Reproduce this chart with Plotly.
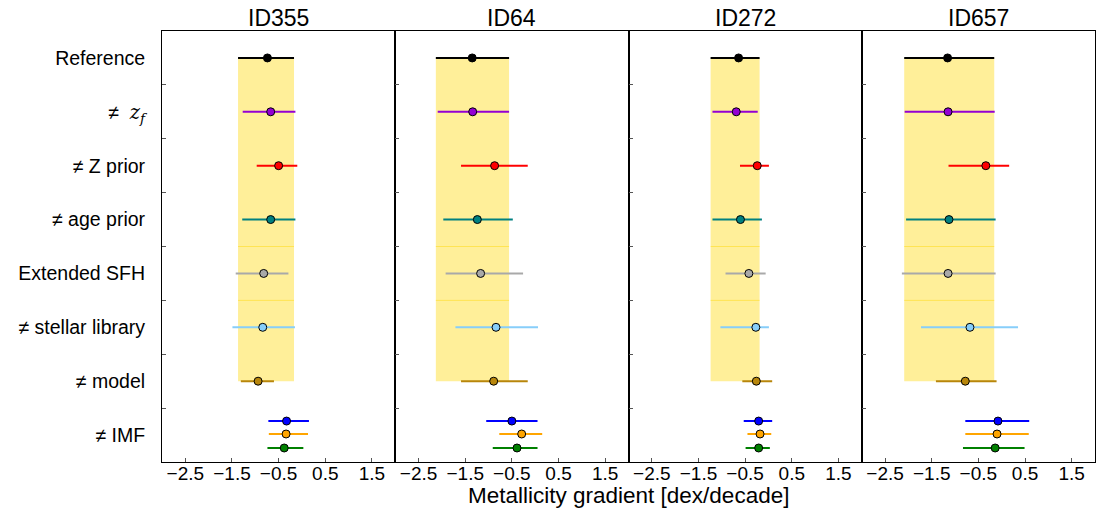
import plotly.graph_objects as go
from plotly.subplots import make_subplots

galaxies = ["ID355", "ID64", "ID272", "ID657"]
row_labels = ["Reference", "≠  <span style=\"font-family:'DejaVu Serif'\"><i>z<sub>f</sub></i></span>",
              "≠ Z prior", "≠ age prior", "Extended SFH", "≠ stellar library", "≠ model", "≠ IMF"]
row_pos = [8, 7, 6, 5, 4, 3, 2, 1]
# series: Reference, zf, Z prior, age prior, Ext SFH, stellar lib, model, IMF(3 variants)
series_row = [0, 1, 2, 3, 4, 5, 6, 7, 7, 7]
series_colors = ["black", "darkviolet", "red", "teal", "darkgray", "lightskyblue",
                 "darkgoldenrod", "blue", "orange", "green"]
series_offset = [0, 0, 0, 0, 0, 0, 0, 0.26, 0.02, -0.24]

id355_center = [-0.74, -0.67, -0.50, -0.67, -0.82, -0.84, -0.94, -0.33, -0.34, -0.38]
id355_lo = [-1.37, -1.27, -0.97, -1.28, -1.42, -1.49, -1.31, -0.72, -0.71, -0.74]
id355_hi = [-0.17, -0.14, -0.10, -0.14, -0.29, -0.15, -0.60, 0.15, 0.13, 0.03]

id64_center = [-1.35, -1.34, -0.87, -1.24, -1.17, -0.84, -0.89, -0.50, -0.29, -0.39]
id64_lo = [-2.13, -2.09, -1.59, -1.97, -1.92, -1.71, -1.59, -1.05, -0.77, -0.91]
id64_hi = [-0.56, -0.56, -0.16, -0.48, -0.26, 0.06, -0.16, 0.05, 0.15, 0.05]

id272_center = [-0.64, -0.69, -0.24, -0.60, -0.42, -0.27, -0.26, -0.21, -0.18, -0.21]
id272_lo = [-1.24, -1.20, -0.61, -1.20, -0.92, -1.03, -0.56, -0.53, -0.45, -0.49]
id272_hi = [-0.19, -0.23, 0.01, -0.14, -0.06, 0.01, 0.08, 0.08, 0.06, 0.03]

id657_center = [-1.16, -1.15, -0.34, -1.13, -1.15, -0.68, -0.78, -0.08, -0.10, -0.14]
id657_lo = [-2.09, -2.08, -1.14, -2.05, -2.14, -1.73, -1.41, -0.78, -0.78, -0.83]
id657_hi = [-0.16, -0.15, 0.16, -0.13, -0.13, 0.35, -0.11, 0.59, 0.58, 0.49]

x_ticks = [-2.5, -1.5, -0.5, 0.5, 1.5]
x_range = [-3, 2]

panels = [(id355_center, id355_lo, id355_hi), (id64_center, id64_lo, id64_hi),
          (id272_center, id272_lo, id272_hi), (id657_center, id657_lo, id657_hi)]

FONT = "Liberation Sans, Arial, sans-serif"

fig = make_subplots(rows=1, cols=4, shared_yaxes=True, horizontal_spacing=0)

for p, (cen, lo, hi) in enumerate(panels):
    col = p + 1
    # yellow band spanning the reference interval, from Reference row to model row
    top, bottom = row_pos[0], row_pos[6]
    fig.add_trace(go.Scatter(x=[lo[0], hi[0], hi[0], lo[0], lo[0]],
                             y=[top, top, bottom, bottom, top],
                             mode="lines", fill="toself", fillcolor="rgba(255,215,0,0.4)",
                             line=dict(width=0), hoverinfo="skip", showlegend=False),
                  row=1, col=col)
    # faint seams inside the band
    for yy in (4.5, 3.5):
        fig.add_trace(go.Scatter(x=[lo[0], hi[0]], y=[yy, yy], mode="lines",
                                 line=dict(color="rgba(255,215,0,0.45)", width=1),
                                 hoverinfo="skip", showlegend=False), row=1, col=col)
    for i in range(len(cen)):
        y = row_pos[series_row[i]] + series_offset[i]
        fig.add_trace(go.Scatter(
            x=[cen[i]], y=[y], mode="markers",
            marker=dict(size=8, color=series_colors[i], line=dict(color="black", width=1)),
            error_x=dict(type="data", symmetric=False, array=[hi[i] - cen[i]],
                         arrayminus=[cen[i] - lo[i]], color=series_colors[i],
                         thickness=2, width=0),
            showlegend=False), row=1, col=col)

for p in range(4):
    col = p + 1
    fig.update_xaxes(range=x_range, tickvals=x_ticks, ticktext=[f"{v:.1f}".replace("-", "\u2212") for v in x_ticks],
                     ticks="inside", ticklen=4, tickcolor="#555", showline=True, mirror=True,
                     linecolor="black", linewidth=1, showgrid=False, zeroline=False,
                     automargin=False, ticklabelstandoff=-6,
                     tickfont=dict(family=FONT, size=19, color="black"), row=1, col=col)
    fig.update_yaxes(range=[0.5, 8.5], tickvals=row_pos, ticktext=row_labels,
                     ticks="", showline=True, mirror=True, linecolor="black", linewidth=1,
                     showgrid=False, zeroline=False, automargin=False,
                     minor=dict(tickvals=[7.5, 6.5, 5.5, 4.5, 3.5, 2.5, 1.5], ticks="inside",
                                ticklen=4, tickcolor="#555"),
                     tickfont=dict(family=FONT, size=19.5, color="black"), row=1, col=col)

fig.update_yaxes(ticklabelstandoff=12, row=1, col=1)

annotations = []
for p, name in enumerate(galaxies):
    annotations.append(dict(text=name, xref=f"x{p + 1 if p else ''} domain", x=0.5, yref="paper",
                            y=1.03, xanchor="center", yanchor="middle", showarrow=False,
                            font=dict(family=FONT, size=23, color="black")))
annotations.append(dict(text="Metallicity gradient [dex/decade]", xref="paper", x=0.5,
                        yref="paper", y=-0.078, xanchor="center", yanchor="middle",
                        showarrow=False, font=dict(family=FONT, size=22.5, color="black")))

fig.update_layout(width=1097, height=509, margin=dict(l=162, r=2, t=31, b=47, autoexpand=False),
                  paper_bgcolor="white", plot_bgcolor="white", annotations=annotations,
                  font=dict(family=FONT, color="black"))

fig.write_html("out.html", config={"displayModeBar": False},
               post_script="document.body.style.margin='0px';document.body.style.overflow='hidden';")
